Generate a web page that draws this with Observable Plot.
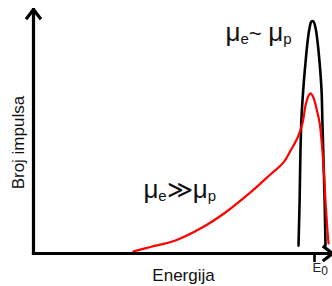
<!DOCTYPE html>
<html><head><meta charset="utf-8">
<script src="https://cdn.jsdelivr.net/npm/d3@7"></script>
<script src="https://cdn.jsdelivr.net/npm/@observablehq/plot@0.6"></script>
<style>body{margin:0;background:#fff} svg{display:block}</style>
</head><body><div id="chart"></div>
<script>
// Red spectrum (μe ≫ μp): energy (E0 = 100) vs counts
const redEnergy = [35.6, 41.6, 50.5, 59.4, 68.3, 77.2, 84.3, 89.0, 91.5, 94.0, 95.7, 96.8, 97.9, 98.6, 99.6, 100.7, 101.8, 102.5, 103.2, 103.9, 104.6, 105.0];
const redCounts = [0.9, 2.8, 5.6, 10.7, 17.6, 26.2, 33.9, 39.1, 44.2, 49.8, 55.8, 63.5, 67.8, 68.7, 67.0, 62.2, 56.2, 48.5, 37.8, 22.7, 9.9, 4.3];
// Black peak (μe ~ μp)
const blackEnergy = [94.3, 94.7, 95.0, 95.4, 96.1, 96.8, 97.5, 98.2, 98.9, 99.6, 100.4, 101.1, 101.8, 102.5, 102.8, 103.2, 103.6, 103.9];
const blackCounts = [3.4, 22.7, 44.2, 59.2, 72.1, 82.0, 90.6, 96.6, 99.6, 99.6, 96.6, 90.6, 82.0, 70.0, 57.1, 39.9, 22.7, 3.4];
const tickValues = [100];
const tickLabels = ["E_0"];
const xLabel = "Energija";
const yLabel = "Broj impulsa";
const annotations = ["μ_e~ μ_p", "μ_e≫μ_p"];

const red = redEnergy.map((e, i) => ({e, c: redCounts[i]}));
const black = blackEnergy.map((e, i) => ({e, c: blackCounts[i]}));

const chart = Plot.plot({
  width: 332, height: 286,
  marginLeft: 33, marginRight: 0, marginTop: 0, marginBottom: 33,
  x: {domain: [0, 106.4], axis: null},
  y: {domain: [0, 108.6], axis: null},
  style: {fontFamily: "'Liberation Sans', Arial, sans-serif", background: "#fff", overflow: "visible"},
  marks: [
    Plot.line(black, {x: "e", y: "c", stroke: "#000", strokeWidth: 2.6, curve: "catmull-rom"}),
    Plot.line(red, {x: "e", y: "c", stroke: "#ff0000", strokeWidth: 2.2, curve: "catmull-rom"}),
    Plot.arrow([0], {x1: 0, y1: 0, x2: 0, y2: 104.7, stroke: "#000", strokeWidth: 3.2, headLength: 5, headAngle: 75, strokeLinecap: "square", strokeLinejoin: "miter"}),
    Plot.arrow([0], {x1: 0, y1: 0, x2: 106.4, y2: 0, stroke: "#000", strokeWidth: 3.2, headLength: 5, headAngle: 75, strokeLinecap: "square", strokeLinejoin: "miter"}),
    Plot.ruleX(tickValues, {y1: 0, y2: -3.9, stroke: "#000", strokeWidth: 2.6}),
    Plot.text(tickLabels, {x: tickValues, y: -8, text: d => d, textAnchor: "start", lineAnchor: "bottom", dx: -2, fontSize: 13, fill: "#222"}),
    Plot.text([xLabel], {x: 53.4, y: -11.6, text: d => d, textAnchor: "middle", lineAnchor: "bottom", fontSize: 17, fill: "#111"}),
    Plot.text([yLabel], {x: -5.3, y: 47.6, text: d => d, rotate: -90, textAnchor: "middle", lineAnchor: "middle", fontSize: 17, fill: "#111"}),
    Plot.text(annotations, {x: [68.3, 39.1], y: [91.4, 24.0], text: d => d, textAnchor: "start", lineAnchor: "bottom", fontSize: 26, fill: "#111"})
  ]
});

// turn "_x" into subscripts
const big = {"~": 22, "≫": 25, " ": 24};
chart.querySelectorAll("text").forEach(t => {
  const s = t.textContent;
  if (!s.includes("_")) return;
  const isTick = s.startsWith("E");
  t.textContent = "";
  let shift = 0;
  for (let i = 0; i < s.length; i++) {
    const ch = s[i];
    const ts = document.createElementNS("http://www.w3.org/2000/svg", "tspan");
    if (ch === "_") {
      const sub = s[++i];
      ts.textContent = sub;
      ts.setAttribute("font-size", isTick ? 12 : 15);
      ts.setAttribute("dy", 3);
      shift = 3;
    } else {
      ts.textContent = ch;
      if (!isTick) ts.setAttribute("font-size", big[ch] || 26);
      if (shift) { ts.setAttribute("dy", -shift); shift = 0; }
    }
    t.appendChild(ts);
  }
});
document.getElementById("chart").appendChild(chart);
</script></body></html>
